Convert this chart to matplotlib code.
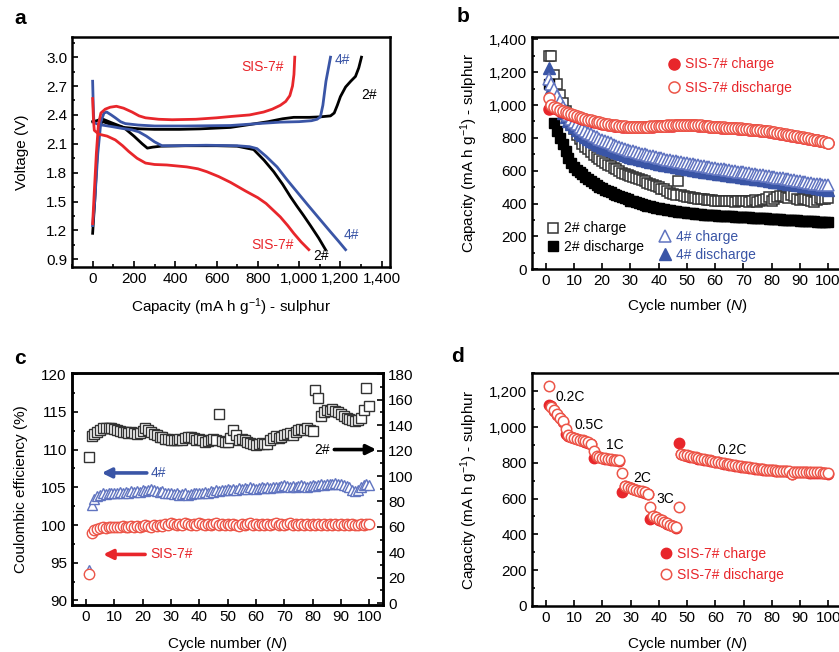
import numpy as np
import matplotlib.pyplot as plt
from matplotlib.ticker import MultipleLocator, FuncFormatter

plt.rcParams['font.family'] = ['Liberation Sans', 'DejaVu Sans']
plt.rcParams['mathtext.fontset'] = 'custom'
plt.rcParams['mathtext.rm'] = 'Liberation Sans'
plt.rcParams['mathtext.it'] = 'Liberation Sans:italic'
plt.rcParams['font.size'] = 11

RED = '#e8262b'
RED_O = '#ec5548'
BLUE = '#3a55a6'
BLUE_O = '#6074c0'
GREY_O = '#333333'

# ---------------- panel a: voltage profiles (capacity, voltage)
sis_dis_cap = [0, 4, 8, 30, 70, 110, 145, 175, 215, 256, 300, 359, 456, 510, 553, 610,
               667, 740, 800, 840, 909, 945, 974, 1010, 1047]
sis_dis_v = [2.57, 2.35, 2.24, 2.20, 2.18, 2.14, 2.08, 2.02, 1.95, 1.90, 1.885, 1.88, 1.86,
             1.84, 1.81, 1.76, 1.70, 1.61, 1.54, 1.48, 1.34, 1.25, 1.17, 1.08, 1.0]
sis_chg_cap = [0, 8, 18, 28, 40, 61, 85, 115, 150, 191, 225, 256, 320, 385, 500, 600, 676,
               760, 828, 870, 909, 935, 955, 968, 975, 979]
sis_chg_v = [1.27, 1.6, 2.0, 2.3, 2.42, 2.46, 2.48, 2.49, 2.47, 2.43, 2.39, 2.37, 2.355,
             2.35, 2.355, 2.37, 2.385, 2.40, 2.43, 2.46, 2.50, 2.54, 2.60, 2.70, 2.82, 3.0]

s4_dis_cap = [0, 3, 6, 30, 90, 142, 190, 223, 260, 300, 336, 400, 550, 700, 760, 796, 840,
              893, 940, 990, 1040, 1087, 1150, 1190, 1225]
s4_dis_v = [2.75, 2.5, 2.32, 2.30, 2.28, 2.26, 2.245, 2.225, 2.18, 2.12, 2.08, 2.08, 2.085,
            2.08, 2.07, 2.05, 1.97, 1.86, 1.73, 1.60, 1.47, 1.35, 1.19, 1.09, 1.0]
s4_chg_cap = [0, 10, 25, 40, 55, 68, 90, 110, 135, 158, 220, 300, 450, 667, 800, 909, 1000,
              1060, 1087, 1103, 1115, 1130, 1152]
s4_chg_v = [1.25, 1.5, 2.0, 2.33, 2.42, 2.43, 2.40, 2.37, 2.33, 2.31, 2.295, 2.285, 2.285,
            2.29, 2.31, 2.325, 2.33, 2.34, 2.355, 2.38, 2.5, 2.75, 3.0]

s2_dis_cap = [0, 20, 45, 90, 150, 200, 240, 265, 290, 330, 450, 600, 700, 780, 830, 877,
              920, 958, 990, 1020, 1055, 1095, 1128]
s2_dis_v = [2.33, 2.34, 2.36, 2.32, 2.27, 2.18, 2.10, 2.055, 2.065, 2.075, 2.08, 2.08,
            2.075, 2.04, 1.93, 1.81, 1.68, 1.55, 1.45, 1.36, 1.25, 1.12, 1.0]
s2_chg_cap = [0, 10, 22, 32, 50, 90, 150, 230, 300, 420, 520, 667, 760, 850, 920, 974,
              1050, 1103, 1152, 1170, 1185, 1200, 1225, 1250, 1273, 1289, 1302]
s2_chg_v = [1.17, 1.5, 2.0, 2.3, 2.33, 2.30, 2.27, 2.255, 2.25, 2.25, 2.255, 2.27, 2.30,
            2.33, 2.36, 2.375, 2.375, 2.38, 2.39, 2.42, 2.50, 2.59, 2.69, 2.75, 2.80, 2.89, 3.0]

# ---------------- panel b: cycling at 0.2C (mA h g-1)
b_2_charge = [1300, 1300, 1180, 1126, 1060, 1014, 965, 923, 885, 852,
              820, 791, 765, 745, 730, 712, 697, 683, 669, 657,
              646, 636, 627, 618, 608, 598, 589, 580, 574, 568,
              561, 555, 549, 543, 536, 527, 520, 512, 505, 498,
              490, 487, 478, 462, 458, 455, 535, 450, 446, 442,
              438, 435, 432, 430, 428, 426, 424, 422, 420, 418,
              417, 416, 415, 414, 413, 415, 412, 414, 416, 418,
              413, 410, 415, 420, 412, 416, 420, 425, 442, 415,
              430, 440, 445, 448, 440, 435, 450, 445, 430, 420,
              425, 430, 420, 415, 410, 420, 432, 425, 430, 437]
b_2_discharge = [1130, 990, 888, 840, 800, 760, 720, 680, 650, 620,
                 605, 592, 578, 564, 550, 537, 525, 512, 502, 493,
                 485, 477, 469, 460, 453, 446, 439, 432, 425, 418,
                 413, 408, 403, 398, 393, 388, 384, 380, 376, 372,
                 368, 365, 362, 359, 356, 353, 351, 349, 347, 345,
                 343, 341, 339, 337, 335, 333, 332, 330, 329, 328,
                 327, 326, 325, 324, 323, 322, 321, 320, 319, 318,
                 317, 316, 315, 314, 313, 312, 311, 310, 309, 308,
                 306, 305, 304, 302, 301, 300, 299, 298, 297, 296,
                 295, 294, 293, 292, 291, 290, 289, 288, 287, 286]
b_4_charge = [1160, 1130, 1095, 1058, 1022, 990, 962, 938, 917, 898,
              882, 868, 855, 843, 832, 822, 812, 803, 795, 787,
              780, 773, 766, 759, 752, 746, 740, 734, 728, 723,
              718, 713, 708, 703, 699, 695, 691, 687, 683, 679,
              675, 671, 668, 664, 661, 657, 654, 651, 648, 645,
              642, 639, 636, 633, 630, 627, 624, 622, 619, 616,
              613, 611, 608, 605, 603, 600, 597, 595, 592, 590,
              587, 585, 582, 580, 577, 575, 572, 570, 567, 564,
              561, 558, 555, 553, 550, 547, 544, 541, 538, 535,
              532, 530, 527, 525, 522, 520, 518, 516, 514, 512]
b_4_discharge = [1225, 1105, 1060, 1020, 985, 952, 925, 902, 882, 864,
                 846, 832, 818, 806, 794, 783, 773, 764, 755, 747,
                 739, 732, 725, 718, 712, 706, 700, 695, 690, 685,
                 680, 676, 671, 667, 663, 659, 655, 651, 647, 643,
                 640, 636, 633, 630, 627, 624, 621, 618, 615, 612,
                 609, 606, 603, 601, 598, 595, 593, 590, 588, 585,
                 583, 580, 578, 575, 573, 570, 568, 566, 563, 561,
                 558, 556, 554, 551, 549, 547, 545, 542, 540, 538,
                 533, 531, 529, 527, 525, 522, 519, 517, 515, 513,
                 510, 507, 504, 501, 498, 495, 492, 489, 486, 483]
b_sis_charge = [975, 992, 984, 974, 966, 960, 953, 945, 940, 934,
                928, 923, 917, 912, 907, 902, 898, 894, 890, 886,
                883, 880, 877, 874, 872, 870, 868, 866, 866, 865,
                865, 864, 864, 865, 866, 867, 868, 869, 870, 871,
                872, 873, 874, 875, 875, 876, 876, 877, 877, 878,
                877, 877, 876, 875, 874, 873, 871, 869, 867, 865,
                864, 863, 862, 861, 860, 859, 858, 857, 856, 855,
                853, 851, 849, 847, 845, 843, 841, 839, 837, 835,
                832, 829, 826, 823, 820, 817, 814, 811, 808, 805,
                802, 798, 795, 792, 788, 785, 782, 778, 774, 769]
b_sis_discharge = [1045, 1000, 990, 980, 972, 965, 958, 950, 944, 938,
                   932, 927, 921, 916, 911, 906, 902, 898, 894, 890,
                   887, 884, 881, 878, 876, 874, 872, 870, 869, 868,
                   868, 867, 867, 868, 868, 869, 870, 871, 872, 873,
                   874, 875, 876, 877, 877, 878, 878, 879, 879, 880,
                   879, 879, 878, 877, 876, 875, 873, 871, 869, 867,
                   866, 865, 864, 863, 862, 861, 860, 859, 858, 857,
                   855, 853, 851, 849, 847, 845, 843, 841, 839, 837,
                   834, 831, 828, 825, 822, 819, 816, 813, 810, 807,
                   804, 800, 797, 794, 790, 787, 784, 780, 776, 771]

# ---------------- panel c: coulombic efficiency (%)
ce_sis = [93.5, 99.0, 99.3, 99.5, 99.6, 99.7, 99.6, 99.8, 99.7, 99.8,
          99.7, 99.8, 99.9, 99.7, 99.8, 99.9, 99.8, 99.9, 99.8, 99.9,
          100.0, 99.9, 99.8, 100.0, 99.9, 100.0, 99.9, 100.1, 100.0, 100.3,
          100.1, 100.0, 100.1, 100.0, 100.2, 100.1, 100.0, 100.1, 100.0, 100.2,
          100.1, 100.0, 100.1, 100.0, 100.1, 100.2, 100.0, 100.1, 100.0, 100.1,
          100.0, 100.1, 100.0, 99.9, 100.1, 100.0, 100.1, 100.2, 100.0, 100.1,
          100.0, 100.1, 100.0, 100.1, 100.0, 100.1, 100.2, 100.0, 100.1, 100.0,
          100.1, 100.2, 100.0, 100.1, 100.0, 100.1, 100.0, 100.1, 100.0, 100.1,
          100.0, 100.1, 100.0, 100.1, 100.0, 100.1, 100.0, 100.1, 100.0, 100.1,
          100.0, 100.1, 100.0, 100.1, 100.0, 100.0, 100.1, 100.0, 100.1, 100.1]
ce_4 = [94.1, 102.6, 103.4, 103.8, 104.0, 104.2, 104.1, 104.3, 104.2, 104.3,
        104.2, 104.4, 104.3, 104.4, 104.3, 104.5, 104.4, 104.5, 104.4, 104.6,
        104.5, 104.7, 104.8, 104.6, 104.5, 104.4, 104.5, 104.3, 104.2, 104.3,
        104.1, 104.2, 104.0, 104.1, 104.2, 104.0, 104.1, 104.2, 104.3, 104.2,
        104.3, 104.4, 104.3, 104.5, 104.4, 104.6, 104.5, 104.7, 104.6, 104.8,
        104.7, 104.8, 104.7, 104.9, 104.8, 104.9, 104.8, 105.0, 104.9, 104.8,
        104.9, 105.0, 104.9, 105.0, 104.9, 105.1, 105.0, 105.1, 105.2, 105.3,
        105.2, 105.1, 105.2, 105.1, 105.2, 105.3, 105.2, 105.1, 105.2, 105.3,
        105.2, 105.3, 105.4, 105.3, 105.4, 105.5, 105.4, 105.6, 105.5, 105.4,
        105.3, 105.2, 105.0, 104.6, 104.5, 104.6, 105.0, 105.3, 105.4, 105.3]
ce_2 = [115.3, 131.5, 133.0, 135.0, 136.5, 137.5, 138.0, 138.0, 137.5, 137.0,
        136.0, 135.5, 134.5, 135.0, 134.0, 134.5, 133.5, 133.0, 134.0, 135.5,
        137.5, 136.0, 134.5, 133.0, 132.5, 131.0, 130.5, 129.5, 129.0, 128.5,
        128.0, 128.5, 129.0, 128.5, 130.0, 131.0, 130.5, 130.0, 128.5, 129.5,
        128.0, 127.0, 127.5, 128.0, 129.0, 128.5, 148.8, 127.5, 126.5, 127.0,
        130.0, 136.0, 132.0, 128.0, 129.5, 128.5, 127.0, 126.0, 125.5, 124.5,
        125.0, 126.0, 125.0, 125.5, 128.0, 130.0, 131.5, 130.0, 131.0, 132.0,
        133.0, 134.0, 132.5, 135.0, 136.0, 137.0, 136.5, 137.5, 136.0, 135.5,
        168.0, 161.5, 147.0, 150.0, 152.0, 151.5, 152.5, 151.0, 150.5, 149.0,
        147.5, 146.0, 144.5, 144.0, 143.5, 144.0, 146.0, 152.0, 169.0, 155.0]

# ---------------- panel d: rate capability of SIS-7#
d_charge = [1121, 1115, 1092, 1068, 1049, 1030, 963, 952, 942, 937,
            932, 927, 922, 917, 912, 903, 826, 838, 830, 826,
            823, 820, 818, 816, 814, 811, 636, 668, 663, 658,
            653, 648, 643, 638, 633, 624, 486, 502, 492, 482,
            475, 467, 459, 452, 445, 436, 910, 848, 843, 839,
            835, 831, 828, 824, 820, 817, 814, 811, 808, 805,
            802, 799, 796, 793, 790, 787, 784, 781, 778, 776,
            774, 772, 770, 768, 766, 764, 762, 760, 759, 758,
            756, 755, 754, 753, 752, 751, 736, 748, 747, 746,
            746, 746, 745, 745, 745, 744, 744, 743, 742, 740]
d_discharge = [1228, 1112, 1095, 1072, 1052, 1034, 990, 955, 945, 940,
               935, 930, 925, 920, 915, 906, 865, 840, 832, 828,
               825, 822, 820, 818, 816, 813, 742, 670, 665, 660,
               655, 650, 645, 640, 635, 626, 551, 505, 495, 485,
               478, 470, 462, 455, 448, 439, 551, 850, 845, 841,
               837, 833, 830, 826, 822, 819, 816, 813, 810, 807,
               804, 801, 798, 795, 792, 789, 786, 783, 780, 778,
               776, 774, 772, 770, 768, 766, 764, 762, 761, 760,
               758, 757, 756, 755, 754, 753, 738, 750, 749, 748,
               748, 748, 747, 747, 747, 746, 746, 745, 744, 742]
rate_labels = ['0.2C', '0.5C', '1C', '2C', '3C', '0.2C']
rate_label_x = [3.5, 10.3, 21.3, 30.8, 39.3, 60.6]
rate_label_y = [1168, 1009, 897, 716, 598, 869]

cyc = np.arange(1, 101)
comma = FuncFormatter(lambda v, p: f'{v:,.0f}')
cap_label = 'Capacity (mA h g$^{-1}$) - sulphur'
cyc_label = 'Cycle number ($\\it{N}$)'


def style(ax):
    for s in ax.spines.values():
        s.set_linewidth(1.8)
    ax.tick_params(which='both', direction='in', labelsize=11, width=1.2)
    ax.tick_params(which='major', length=4)
    ax.tick_params(which='minor', length=2.5)


fig = plt.figure(figsize=(8.39, 6.52), dpi=100)

# ---- a
ax = fig.add_axes([0.0858, 0.5905, 0.379, 0.3528])
style(ax)
ax.plot(s2_dis_cap, s2_dis_v, color='black', lw=2)
ax.plot(s2_chg_cap, s2_chg_v, color='black', lw=2)
ax.plot(s4_dis_cap, s4_dis_v, color=BLUE, lw=2)
ax.plot(s4_chg_cap, s4_chg_v, color=BLUE, lw=2)
ax.plot(sis_dis_cap, sis_dis_v, color=RED, lw=2)
ax.plot(sis_chg_cap, sis_chg_v, color=RED, lw=2)
ax.set_xlim(-100, 1440)
ax.set_ylim(0.82, 3.21)
ax.xaxis.set_major_locator(MultipleLocator(200))
ax.xaxis.set_minor_locator(MultipleLocator(100))
ax.yaxis.set_major_locator(MultipleLocator(0.3))
ax.yaxis.set_minor_locator(MultipleLocator(0.15))
ax.xaxis.set_major_formatter(comma)
ax.yaxis.set_major_formatter(FuncFormatter(lambda v, p: f'{v:.1f}'))
ax.set_xlabel(cap_label, fontsize=11)
ax.set_ylabel('Voltage (V)', fontsize=11)
ax.xaxis.set_label_coords(0.5, -0.126)
ax.yaxis.set_label_coords(-0.135, 0.5)
ax.text(925, 2.90, 'SIS-7#', color=RED, ha='right', va='center', fontsize=10)
ax.text(1172, 2.97, '4#', color=BLUE, ha='left', va='center', fontsize=10)
ax.text(1303, 2.61, '2#', color='black', ha='left', va='center', fontsize=10)
ax.text(975, 1.05, 'SIS-7#', color=RED, ha='right', va='center', fontsize=10)
ax.text(1068, 0.935, '2#', color='black', ha='left', va='center', fontsize=10)
ax.text(1217, 1.15, '4#', color=BLUE, ha='left', va='center', fontsize=10)
fig.text(20 / 839, 1 - 18 / 652, 'a', fontsize=15, fontweight='bold', ha='center', va='center')

# ---- b
ax = fig.add_axes([0.6337, 0.587, 0.370, 0.3567])
style(ax)
h2c, = ax.plot(cyc, b_2_charge, 's', ms=7.5, mfc='white', mec=GREY_O, mew=1.1, ls='none')
h2d, = ax.plot(cyc, b_2_discharge, 's', ms=7.5, mfc='black', mec='black', ls='none')
h4d, = ax.plot(cyc, b_4_discharge, '^', ms=8, mfc=BLUE, mec=BLUE, ls='none')
h4c, = ax.plot(cyc, b_4_charge, '^', ms=8, mfc='white', mec=BLUE_O, mew=1.1, ls='none')
hsc, = ax.plot(cyc, b_sis_charge, 'o', ms=8, mfc=RED, mec=RED, ls='none')
hsd, = ax.plot(cyc, b_sis_discharge, 'o', ms=8, mfc='white', mec=RED_O, mew=1.1, ls='none')
ax.set_xlim(-5, 105)
ax.set_ylim(0, 1416)
ax.xaxis.set_major_locator(MultipleLocator(10))
ax.yaxis.set_major_locator(MultipleLocator(200))
ax.yaxis.set_minor_locator(MultipleLocator(100))
ax.yaxis.set_major_formatter(comma)
ax.set_xlabel(cyc_label, fontsize=11)
ax.set_ylabel(cap_label, fontsize=11)
ax.xaxis.set_label_coords(0.5, -0.119)
ax.yaxis.set_label_coords(-0.167, 0.5)
lkw = dict(frameon=False, fontsize=10, loc='upper left', borderpad=0, borderaxespad=0,
           handlelength=1, handletextpad=0.3)
lg1 = ax.legend([hsc, hsd], ['SIS-7# charge', 'SIS-7# discharge'], bbox_to_anchor=(0.436, 0.911),
                labelcolor=[RED, RED], labelspacing=0.7, **lkw)
ax.add_artist(lg1)
lg2 = ax.legend([h2c, h2d], ['2# charge', '2# discharge'], bbox_to_anchor=(0.046, 0.206),
                labelcolor=['black', 'black'], labelspacing=0.3, **lkw)
ax.add_artist(lg2)
ax.legend([h4c, h4d], ['4# charge', '4# discharge'], bbox_to_anchor=(0.407, 0.170),
          labelcolor=[BLUE, BLUE], labelspacing=0.3, **lkw)
fig.text(463 / 839, 1 - 17 / 652, 'b', fontsize=15, fontweight='bold', ha='center', va='center')

# ---- c
ax = fig.add_axes([0.0855, 0.0721, 0.3714, 0.3553])
style(ax)
ax.plot(cyc, ce_4, '^', ms=7.5, mfc='white', mec=BLUE_O, mew=1.0, ls='none')
ax.plot(cyc, ce_sis, 'o', ms=7.5, mfc='white', mec=RED_O, mew=1.0, ls='none')
ax.set_xlim(-5, 105)
ax.set_ylim(89.4, 120.1)
ax.xaxis.set_major_locator(MultipleLocator(10))
ax.yaxis.set_major_locator(MultipleLocator(5))
ax.yaxis.set_minor_locator(MultipleLocator(2.5))
ax.set_xlabel(cyc_label, fontsize=11)
ax.set_ylabel('Coulombic efficiency (%)', fontsize=11)
ax.xaxis.set_label_coords(0.5, -0.13)
ax.yaxis.set_label_coords(-0.14, 0.5)
akw = dict(arrowstyle='-|>', lw=2.6, mutation_scale=14, shrinkA=0, shrinkB=0)
ax.annotate('', xy=(5.6, 106.9), xytext=(21.5, 106.9), arrowprops=dict(color=BLUE, **akw))
ax.text(22.9, 106.9, '4#', color=BLUE, ha='left', va='center', fontsize=10)
ax.annotate('', xy=(6.1, 96.1), xytext=(20.9, 96.1), arrowprops=dict(color=RED, **akw))
ax.text(22.7, 96.1, 'SIS-7#', color=RED, ha='left', va='center', fontsize=10)
ax.annotate('', xy=(102.5, 110.0), xytext=(87.7, 110.0), arrowprops=dict(color='black', **akw))
ax.text(86, 110.0, '2#', color='black', ha='right', va='center', fontsize=10)
ax2 = ax.twinx()
style(ax2)
ax2.plot(cyc, ce_2, 's', ms=7.5, mfc='white', mec=GREY_O, mew=1.0, ls='none')
ax2.set_ylim(-1.5, 180.8)
ax2.yaxis.set_major_locator(MultipleLocator(20))
ax2.yaxis.set_minor_locator(MultipleLocator(10))
fig.text(20 / 839, 1 - 358 / 652, 'c', fontsize=15, fontweight='bold', ha='center', va='center')

# ---- d
ax = fig.add_axes([0.6337, 0.0706, 0.3704, 0.3568])
style(ax)
hdc, = ax.plot(cyc, d_charge, 'o', ms=7.5, mfc=RED, mec=RED, ls='none')
hdd, = ax.plot(cyc, d_discharge, 'o', ms=7.5, mfc='white', mec=RED_O, mew=1.1, ls='none')
ax.set_xlim(-5, 105)
ax.set_ylim(0, 1300)
ax.xaxis.set_major_locator(MultipleLocator(10))
ax.yaxis.set_major_locator(MultipleLocator(200))
ax.yaxis.set_minor_locator(MultipleLocator(100))
ax.yaxis.set_major_formatter(comma)
ax.set_xlabel(cyc_label, fontsize=11)
ax.set_ylabel(cap_label, fontsize=11)
ax.xaxis.set_label_coords(0.5, -0.125)
ax.yaxis.set_label_coords(-0.167, 0.5)
for t, x, y in zip(rate_labels, rate_label_x, rate_label_y):
    ax.text(x, y, t, ha='left', va='center', fontsize=10)
ax.legend([hdc, hdd], ['SIS-7# charge', 'SIS-7# discharge'], bbox_to_anchor=(0.41, 0.254),
          labelcolor=[RED, RED], labelspacing=0.5, **lkw)
fig.text(457 / 839, 1 - 357 / 652, 'd', fontsize=15, fontweight='bold', ha='center', va='center')

fig.savefig('out.png', dpi=100)
